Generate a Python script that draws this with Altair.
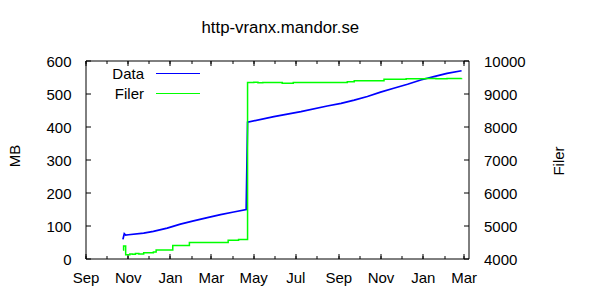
import altair as alt
import pandas as pd

# ---------------- data ----------------
data_dates = ["2001-10-25", "2001-10-27", "2001-10-29", "2001-11-02", "2001-11-24",
              "2001-12-08", "2001-12-28", "2002-01-16", "2002-02-04", "2002-02-24",
              "2002-03-15", "2002-04-03", "2002-04-21", "2002-04-23", "2002-05-31",
              "2002-07-09", "2002-08-16", "2002-09-05", "2002-09-24", "2002-10-13",
              "2002-11-01", "2002-11-20", "2002-12-10", "2002-12-29", "2003-01-17",
              "2003-02-05", "2003-02-26"]
data_mb = [58, 75, 71, 72, 77,
           82, 92, 104, 114, 124,
           133, 141, 148, 413, 430,
           445, 462, 470, 480, 491,
           504, 516, 528, 541, 551,
           561, 569]

filer_dates = ["2001-10-25", "2001-10-26", "2001-10-29", "2001-11-04", "2001-11-08",
               "2001-11-12", "2001-11-17", "2001-11-24", "2001-12-08", "2001-12-12",
               "2002-01-05", "2002-01-29", "2002-03-26", "2002-04-10", "2002-04-23",
               "2002-05-02", "2002-05-08", "2002-05-15", "2002-05-22", "2002-06-12",
               "2002-06-28", "2002-07-02", "2002-09-14", "2002-09-24", "2002-11-06",
               "2002-12-08", "2002-12-20", "2003-01-05", "2003-01-20", "2003-02-05",
               "2003-02-15", "2003-02-26"]
filer_count = [4260, 4380, 4110, 4140, 4130,
               4150, 4140, 4176, 4200, 4260,
               4395, 4485, 4555, 4575, 9330,
               9340, 9325, 9335, 9330, 9310,
               9335, 9330, 9357, 9388, 9430,
               9450, 9445, 9455, 9448, 9458,
               9452, 9460]

series_names = ["Data", "Filer"]
series_colors = ["#0000ff", "#00ff00"]

major_ticks = ["2001-09-01", "2001-11-01", "2002-01-01", "2002-03-01", "2002-05-01",
               "2002-07-01", "2002-09-01", "2002-11-01", "2003-01-01", "2003-03-01"]
minor_ticks = ["2001-09-01", "2001-10-01", "2001-11-01", "2001-12-01", "2002-01-01",
               "2002-02-01", "2002-03-01", "2002-04-01", "2002-05-01", "2002-06-01",
               "2002-07-01", "2002-08-01", "2002-09-01", "2002-10-01", "2002-11-01",
               "2002-12-01", "2003-01-01", "2003-02-01", "2003-03-01"]
mb_ticks = [0, 100, 200, 300, 400, 500, 600]
filer_ticks = [4000, 5000, 6000, 7000, 8000, 9000, 10000]
x_range = ["2001-09-01", "2003-03-08"]

title_text = "http-vranx.mandor.se"
FONT = "Liberation Sans"


def dt(s):
    y, m, d = (int(p) for p in s.split("-"))
    return alt.DateTime(year=y, month=m, date=d)


df_data = pd.DataFrame({"date": pd.to_datetime(data_dates), "value": data_mb,
                        "serie": series_names[0]})
df_filer = pd.DataFrame({"date": pd.to_datetime(filer_dates), "value": filer_count,
                         "serie": series_names[1]})

xscale = alt.Scale(domain=[dt(x_range[0]), dt(x_range[1])])

color = alt.Color(
    "serie:N",
    scale=alt.Scale(domain=series_names, range=series_colors),
    legend=alt.Legend(
        orient="none", legendX=83.5, legendY=4, title=None, padding=0,
        symbolType="M-2.75,0H2.75", symbolSize=256, symbolStrokeWidth=1.2,
        labelFont=FONT, labelFontSize=15, labelColor="black",
        labelAlign="right", labelOffset={"expr": "-43"}, rowPadding=3,
    ),
)


def xaxis(orient, values, size, labels):
    kw = dict(orient=orient, values=[dt(v) for v in values], title=None,
              domain=False, grid=False, tickSize={"expr": str(-size)},
              tickColor="black", labels=labels)
    if labels:
        kw.update(format="%b", labelFont=FONT, labelFontSize=15, labelColor="black",
                  labelPadding=17, labelFlush=False, labelOverlap=False)
    return alt.Axis(**kw)


layer_data = alt.Chart(df_data).mark_line(strokeWidth=1.7).encode(
    x=alt.X("date:T", scale=xscale, axis=xaxis("bottom", major_ticks, 5, True)),
    y=alt.Y("value:Q", scale=alt.Scale(domain=[0, 600], nice=False, zero=False),
            axis=alt.Axis(orient="left", values=mb_ticks, title="MB", domain=False,
                          grid=False, tickSize={"expr": "-5"}, tickColor="black",
                          format="d",
                          labelFont=FONT, labelFontSize=15, labelColor="black",
                          labelPadding=19.5, labelOffset=1, labelFlush=False,
                          titleFont=FONT, titleFontSize=15, titleFontWeight="normal",
                          titleColor="black", titleAngle=270, titleX=-71.5, titleY=95,
                          titleBaseline="middle", titleAlign="center")),
    color=color,
)

layer_filer = alt.Chart(df_filer).mark_line(strokeWidth=1.5, interpolate="step-after").encode(
    x=alt.X("date:T", scale=xscale, axis=xaxis("top", major_ticks, 5, False)),
    y=alt.Y("value:Q", scale=alt.Scale(domain=[4000, 10000], nice=False, zero=False),
            axis=alt.Axis(orient="right", values=filer_ticks, title="Filer", domain=False,
                          grid=False, tickSize={"expr": "-5"}, tickColor="black",
                          format="d",
                          labelFont=FONT, labelFontSize=15, labelColor="black",
                          labelPadding=20, labelOffset=1, labelFlush=False,
                          titleFont=FONT, titleFontSize=15, titleFontWeight="normal",
                          titleColor="black", titleAngle=270, titleX=89.5, titleY=100,
                          titleBaseline="middle", titleAlign="center")),
    color=color,
)

layer_minor_bottom = alt.Chart(df_data).mark_rule(opacity=0).encode(
    x=alt.X("date:T", scale=xscale, axis=xaxis("bottom", minor_ticks, 3, False)),
)
layer_minor_top = alt.Chart(df_data).mark_rule(opacity=0).encode(
    x=alt.X("date:T", scale=xscale, axis=xaxis("top", minor_ticks, 3, False)),
)

chart = (
    alt.layer(layer_data, layer_filer, layer_minor_bottom, layer_minor_top)
    .resolve_scale(y="independent")
    .resolve_axis(x="independent")
    .properties(
        width=383, height=198,
        autosize=alt.AutoSizeParams(type="none"),
        padding={"left": 85.5, "top": 60.5, "right": 131.5, "bottom": 41.5},
        title=alt.TitleParams(text=title_text, font=FONT, fontSize=16.8,
                              fontWeight="normal", color="black", anchor="middle",
                              frame="group", dx=3.3, offset=4.5, baseline="alphabetic"),
        background="white",
    )
    .configure_view(stroke="black", strokeWidth=1)
)

chart.save("out.html", embed_options={"renderer": "svg", "actions": False})
